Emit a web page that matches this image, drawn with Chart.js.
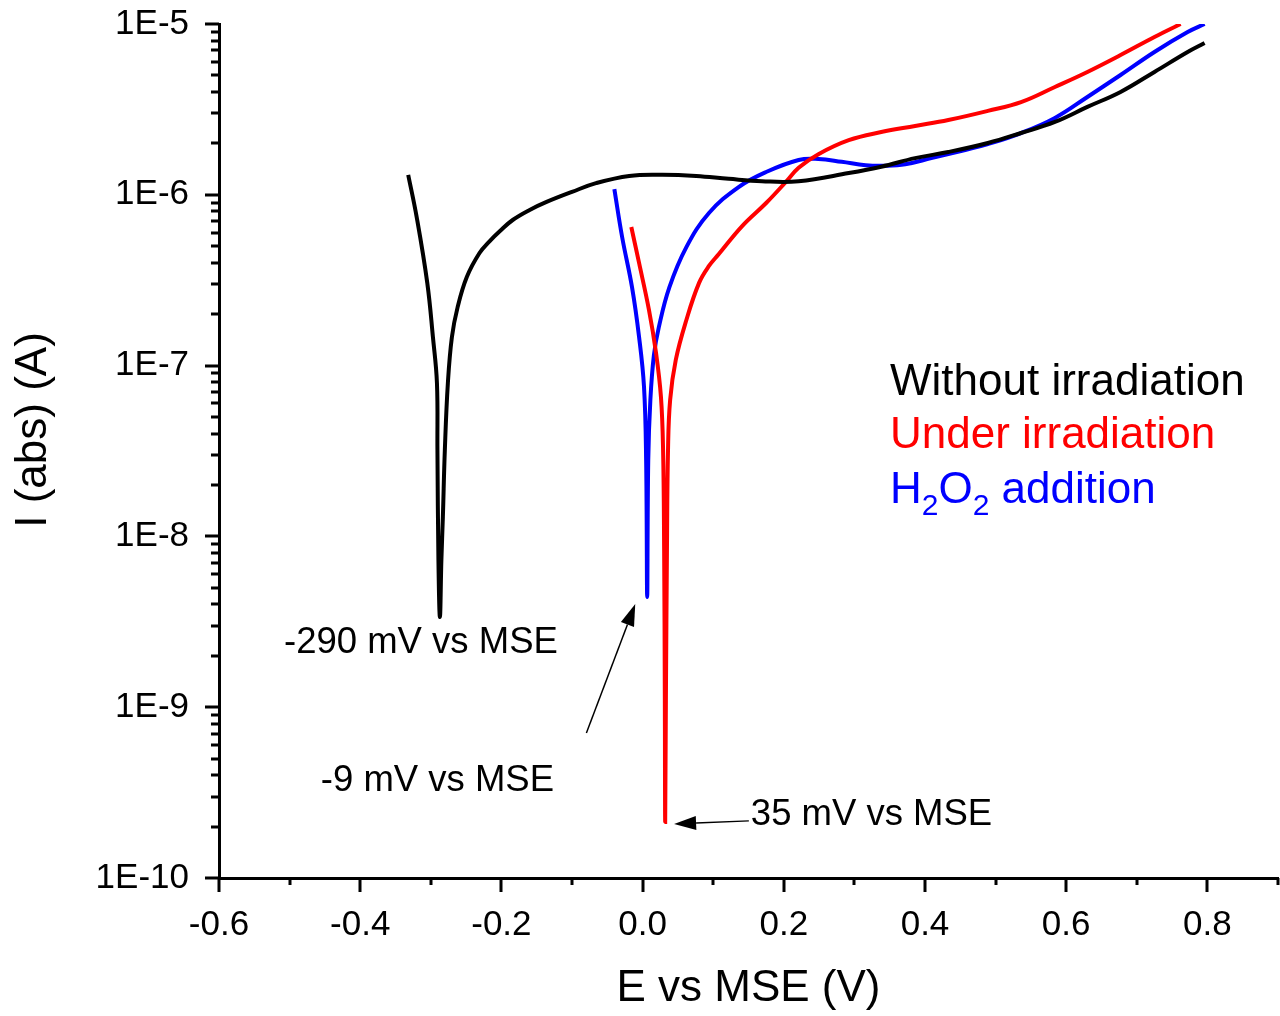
<!DOCTYPE html>
<html>
<head>
<meta charset="utf-8">
<title>Polarization curves</title>
<script src="https://cdn.jsdelivr.net/npm/chart.js@4.4.1/dist/chart.umd.min.js"></script>
<style>
  html, body { margin: 0; padding: 0; background: #fff; }
  #wrap { position: relative; width: 1280px; height: 1016px; }
</style>
</head>
<body>
<div id="wrap"><canvas id="tafelChart"></canvas></div>
<script>
// potential (V vs MSE) and |current| (A)
const blackE = [-0.332, -0.320, -0.305, -0.297, -0.2913, -0.2906, -0.2892, -0.2871, -0.2850, -0.2829, -0.2801, -0.2758, -0.2701,
  -0.262, -0.249, -0.231, -0.2165, -0.202, -0.184, -0.160, -0.136, -0.100, -0.066, -0.019, 0.028, 0.076, 0.122, 0.169, 0.221,
  0.292, 0.338, 0.386, 0.433, 0.489, 0.536, 0.584, 0.630, 0.677, 0.725, 0.772, 0.796];
const blackI = [1.31e-6, 7.41e-7, 3.05e-7, 1.47e-7, 7.91e-8, 3.21e-8, 7.28e-9, 3.37e-9, 7.28e-9, 1.30e-8, 3.21e-8, 7.91e-8, 1.47e-7,
  2.20e-7, 3.30e-7, 4.56e-7, 5.36e-7, 6.14e-7, 7.12e-7, 8.15e-7, 9.08e-7, 1.04e-6, 1.17e-6, 1.29e-6, 1.31e-6, 1.29e-6, 1.24e-6, 1.20e-6, 1.20e-6,
  1.34e-6, 1.46e-6, 1.64e-6, 1.78e-6, 2.01e-6, 2.30e-6, 2.67e-6, 3.27e-6, 4.00e-6, 5.24e-6, 6.86e-6, 7.74e-6];

const redE = [-0.016, -0.005, 0.009, 0.019, 0.026, 0.029, 0.0305, 0.0315, 0.032, 0.033, 0.0345, 0.036, 0.039, 0.047,
  0.062, 0.080, 0.094, 0.108, 0.141, 0.175, 0.203, 0.221, 0.249, 0.292, 0.338, 0.386, 0.433, 0.489, 0.536, 0.584, 0.630,
  0.677, 0.725, 0.762];
const redI = [6.48e-7, 3.99e-7, 2.12e-7, 1.19e-7, 6.55e-8, 3.21e-8, 8.32e-9, 1.10e-9, 2.13e-10, 1.10e-9, 8.32e-9, 3.21e-8, 6.29e-8, 1.08e-7,
  1.85e-7, 3.05e-7, 3.83e-7, 4.50e-7, 6.56e-7, 8.95e-7, 1.19e-6, 1.44e-6, 1.73e-6, 2.09e-6, 2.33e-6, 2.53e-6, 2.74e-6, 3.10e-6, 3.49e-6, 4.28e-6, 5.24e-6,
  6.58e-6, 8.39e-6, 1.0e-5];

const blueE = [-0.040, -0.029, -0.015, -0.005, 0.002, 0.005, 0.0065, 0.008, 0.011, 0.016, 0.023, 0.038, 0.062, 0.094,
  0.136, 0.175, 0.221, 0.249, 0.282, 0.316, 0.344, 0.372, 0.409, 0.457, 0.489, 0.536, 0.584, 0.630, 0.677, 0.725,
  0.772, 0.796];
const blueI = [1.08e-6, 5.66e-7, 2.88e-7, 1.47e-7, 7.50e-8, 2.8e-8, 4.42e-9, 2.8e-8, 6.29e-8, 1.15e-7, 1.68e-7, 2.88e-7, 4.94e-7, 7.82e-7,
  1.11e-6, 1.36e-6, 1.60e-6, 1.62e-6, 1.56e-6, 1.49e-6, 1.48e-6, 1.51e-6, 1.64e-6, 1.83e-6, 1.98e-6, 2.30e-6, 2.82e-6, 3.74e-6, 5.03e-6, 6.86e-6,
  8.98e-6, 1.0e-5];

const seriesNames = ["Without irradiation", "Under irradiation", "H2O2 addition"];
const seriesColors = ["#000000", "#ff0000", "#0000ff"];

const xMajorTicks = [-0.6, -0.4, -0.2, 0.0, 0.2, 0.4, 0.6, 0.8];
const xMinorTicks = [-0.5, -0.3, -0.1, 0.1, 0.3, 0.5, 0.7, 0.9];
const yDecades = [-10, -9, -8, -7, -6, -5];

// corrosion potential notes, anchored in data units
const notes = [
  { text: "-290 mV vs MSE", E: -0.314, I: 2.38e-9, align: "center" },
  { text: "-9 mV vs MSE", E: -0.2906, I: 3.70e-10, align: "center" },
  { text: "35 mV vs MSE", E: 0.1533, I: 2.34e-10, align: "left" },
];
const arrows = [
  { from: [-0.0796, 7.06e-10], to: [-0.0104, 4.02e-9] },
  { from: [0.1505, 2.16e-10], to: [0.0446, 2.07e-10] },
];

const FONT = "'Liberation Sans', Arial, sans-serif";

function toPoints(es, is) {
  return es.map((e, i) => ({ x: e, y: is[i] }));
}

// major and minor tick marks, drawn outward from the axes
const tickMarks = {
  id: "tickMarks",
  afterDraw(chart) {
    const { ctx, chartArea } = chart;
    const xs = chart.scales.x;
    const ys = chart.scales.y;
    ctx.save();
    ctx.strokeStyle = "#000";
    ctx.lineWidth = 3;
    ctx.beginPath();
    xs.ticks.forEach((t) => {
      const px = Math.round(xs.getPixelForValue(t.value));
      const len = t.major ? 14 : 7;
      ctx.moveTo(px, chartArea.bottom);
      ctx.lineTo(px, chartArea.bottom + len);
    });
    ys.ticks.forEach((t) => {
      const py = Math.round(ys.getPixelForValue(t.value));
      const len = t.major ? 14 : 8;
      ctx.moveTo(chartArea.left, py);
      ctx.lineTo(chartArea.left - len, py);
    });
    ctx.stroke();
    ctx.restore();
  },
};

// in-plot legend, annotations and the y title
const plotText = {
  id: "plotText",
  afterDraw(chart) {
    const { ctx, chartArea } = chart;
    const xs = chart.scales.x;
    const ys = chart.scales.y;
    ctx.save();

    // y axis title
    ctx.save();
    ctx.translate(34, 430);
    ctx.rotate(-Math.PI / 2);
    ctx.font = "44px " + FONT;
    ctx.fillStyle = "#000";
    ctx.textAlign = "center";
    ctx.textBaseline = "middle";
    ctx.fillText("I (abs) (A)", 0, 0);
    ctx.restore();

    // legend: coloured text only
    const lx = chartArea.right - 388;
    const baselines = [395, 448, 503];
    ctx.font = "44px " + FONT;
    ctx.textBaseline = "alphabetic";
    ctx.textAlign = "left";
    ctx.fillStyle = seriesColors[0];
    ctx.fillText(seriesNames[0], lx, baselines[0]);
    ctx.fillStyle = seriesColors[1];
    ctx.fillText(seriesNames[1], lx, baselines[1]);
    ctx.fillStyle = seriesColors[2];
    let cx = lx;
    const parts = [["H", false], ["2", true], ["O", false], ["2", true], [" addition", false]];
    parts.forEach(([s, sub]) => {
      ctx.font = (sub ? "30px " : "44px ") + FONT;
      ctx.fillText(s, cx, baselines[2] + (sub ? 12 : 0));
      cx += ctx.measureText(s).width;
    });

    // notes
    ctx.font = "36.5px " + FONT;
    ctx.fillStyle = "#000";
    ctx.textBaseline = "middle";
    notes.forEach((n) => {
      ctx.textAlign = n.align;
      ctx.fillText(n.text, xs.getPixelForValue(n.E), ys.getPixelForValue(n.I));
    });

    // arrows
    ctx.strokeStyle = "#000";
    ctx.lineWidth = 1.5;
    arrows.forEach((a) => {
      const x1 = xs.getPixelForValue(a.from[0]);
      const y1 = ys.getPixelForValue(a.from[1]);
      const x2 = xs.getPixelForValue(a.to[0]);
      const y2 = ys.getPixelForValue(a.to[1]);
      const ang = Math.atan2(y2 - y1, x2 - x1);
      const hl = 22, hw = 7;
      const bx = x2 - hl * Math.cos(ang);
      const by = y2 - hl * Math.sin(ang);
      ctx.beginPath();
      ctx.moveTo(x1, y1);
      ctx.lineTo(bx, by);
      ctx.stroke();
      ctx.beginPath();
      ctx.moveTo(x2, y2);
      ctx.lineTo(bx + hw * Math.sin(ang), by - hw * Math.cos(ang));
      ctx.lineTo(bx - hw * Math.sin(ang), by + hw * Math.cos(ang));
      ctx.closePath();
      ctx.fill();
    });
    ctx.restore();
  },
};

function makeDataset(label, es, is, color) {
  return {
    label: label,
    data: toPoints(es, is),
    borderColor: color,
    backgroundColor: color,
    borderWidth: 4,
    pointRadius: 0,
    tension: 0.4,
    fill: false,
  };
}

const chart = new Chart(document.querySelector("#tafelChart"), {
  type: "line",
  data: {
    datasets: [
      makeDataset(seriesNames[0], blackE, blackI, seriesColors[0]),
      makeDataset(seriesNames[1], redE, redI, seriesColors[1]),
      makeDataset(seriesNames[2], blueE, blueI, seriesColors[2]),
    ],
  },
  options: {
    responsive: true,
    maintainAspectRatio: false,
    animation: false,
    layout: { padding: { left: 0, right: 2, top: 24, bottom: 0 } },
    plugins: {
      legend: { display: false },
      tooltip: { enabled: false },
    },
    scales: {
      x: {
        type: "linear",
        min: -0.6,
        max: 0.9,
        afterFit(scale) {
          scale.height = 138;
          scale.paddingLeft = 0;
          scale.paddingRight = 0;
        },
        afterBuildTicks(scale) {
          const ticks = xMajorTicks.map((v) => ({ value: v, major: true }))
            .concat(xMinorTicks.map((v) => ({ value: v, major: false })));
          ticks.sort((a, b) => a.value - b.value);
          scale.ticks = ticks;
        },
        border: { display: true, color: "#000", width: 3 },
        grid: { display: true, drawOnChartArea: false, drawTicks: true, tickLength: 14, tickColor: "rgba(0,0,0,0)" },
        ticks: {
          autoSkip: false,
          maxRotation: 0,
          padding: 12,
          color: "#000",
          font: { family: FONT, size: 35 },
          callback(value) {
            const v = Math.round(value * 10) / 10;
            return xMajorTicks.some((m) => Math.abs(m - v) < 1e-9) ? (v === 0 ? "0.0" : v.toFixed(1)) : "";
          },
        },
        title: {
          display: true,
          text: "E vs MSE (V)",
          color: "#000",
          font: { family: FONT, size: 44 },
          padding: { top: 0, bottom: 1 },
        },
      },
      y: {
        type: "logarithmic",
        min: 1e-10,
        max: 1e-5,
        afterFit(scale) {
          scale.width = 219;
          scale.paddingTop = 0;
          scale.paddingBottom = 0;
        },
        afterBuildTicks(scale) {
          const ticks = [];
          yDecades.forEach((d) => {
            const top = d === yDecades[yDecades.length - 1] ? 1 : 9;
            for (let m = 1; m <= top; m++) {
              ticks.push({ value: m * Math.pow(10, d), major: m === 1 });
            }
          });
          scale.ticks = ticks;
        },
        border: { display: true, color: "#000", width: 3 },
        grid: { display: true, drawOnChartArea: false, drawTicks: true, tickLength: 14, tickColor: "rgba(0,0,0,0)" },
        ticks: {
          autoSkip: false,
          padding: 16,
          color: "#000",
          font: { family: FONT, size: 35 },
          callback(value) {
            const e = Math.log10(value);
            return Math.abs(e - Math.round(e)) < 1e-6 ? "1E" + Math.round(e) : "";
          },
        },
        title: { display: false },
      },
    },
  },
  plugins: [tickMarks, plotText],
});
</script>
</body>
</html>
